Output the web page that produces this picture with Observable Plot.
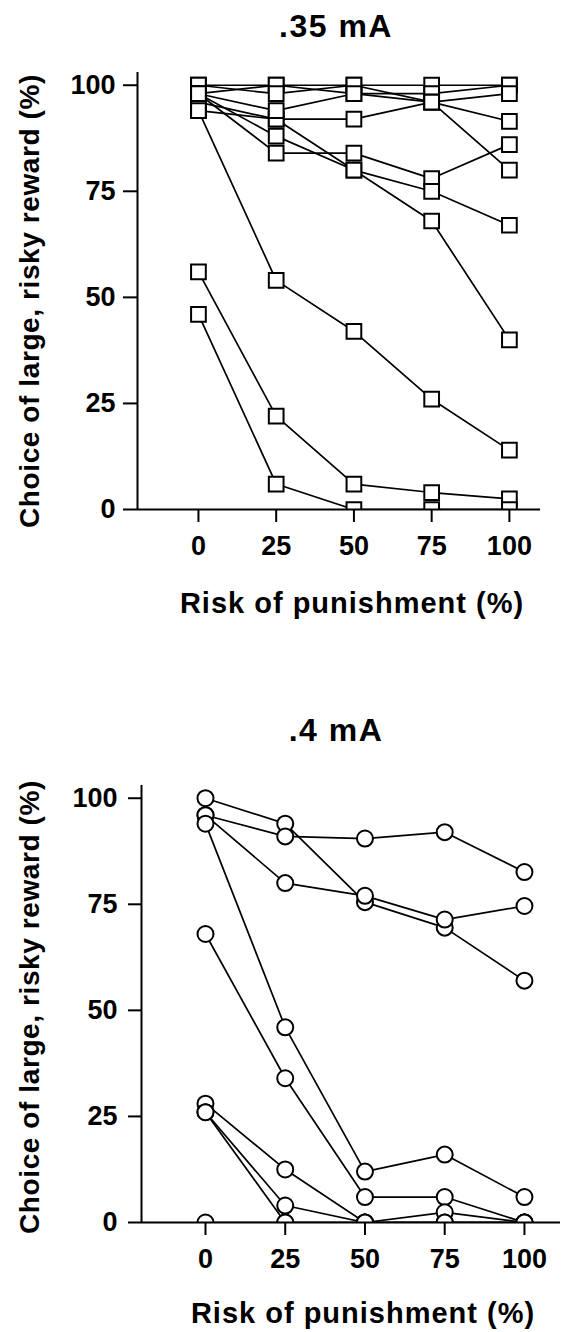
<!DOCTYPE html>
<html>
<head>
<meta charset="utf-8">
<script src="https://cdn.jsdelivr.net/npm/d3@7"></script>
<script src="https://cdn.jsdelivr.net/npm/@observablehq/plot@0.6"></script>
<style>
  html, body { margin: 0; padding: 0; background: #fff; overflow: hidden; }
  #wrap { position: relative; width: 576px; height: 1332px; font-family: "Liberation Sans", Arial, sans-serif; }
  .ttl { position: absolute; width: 480px; left: 96px; text-align: center; font-weight: bold; font-size: 32px; line-height: 32px; letter-spacing: 1.5px; color: #000; }
  .pnl { position: absolute; left: 0; }
</style>
</head>
<body>
<div id="wrap">
  <div class="ttl" style="top:10px">.35 mA</div>
  <div class="ttl" style="top:714px">.4 mA</div>
</div>
<script>
// ---- shared categories / ticks ----
const risk = [0, 25, 50, 75, 100];
const xTicks = [0, 25, 50, 75, 100];
const yTicks = [0, 25, 50, 75, 100];
const xLabel = "Risk of punishment (%)";
const yLabel = "Choice of large, risky reward (%)";

// ---- .35 mA (squares): one array per subject, values at risk 0,25,50,75,100 ----
const a01 = [100, 100, 100, 100, 100];
const a02 = [98, 100, 98, 98, 100];
const a03 = [100, 98, 100, 96, 98];
const a04 = [94, 92, 92, 96, 91.5];
const a05 = [98, 84, 84, 78, 86];
const a06 = [98, 88, 80, 75, 67];
const a07 = [96, 92, 80, 68, 40];
const a08 = [94, 54, 42, 26, 14];
const a09 = [56, 22, 6, 4, 2.5];
const a10 = [46, 6, 0, 0, 0];
const a11 = [98, 94, 98, 96, 80];
const panel035 = [a01, a02, a03, a04, a05, a06, a07, a08, a09, a10, a11];

// ---- .4 mA (circles) ----
const b01 = [100, 94, 75.5, 69.5, 57];
const b02 = [96, 91, 90.5, 92, 82.6];
const b03 = [96, 80, 77, 71.4, 74.6];
const b04 = [94, 46, 12, 16, 6];
const b05 = [68, 34, 6, 6, 0];
const b06 = [28, 12.5, 0, 0, 0];
const b07 = [26, 4, 0, 2.4, 0];
const b08 = [26, 0, 0, 0, 0];
const b09 = [0, 0, 0, 0, 0];
const panel04 = [b01, b02, b03, b04, b05, b06, b07, b08, b09];

function shiftText(sel, dx, dy) {
  sel.each(function () {
    const t = this.getAttribute("transform") || "";
    this.setAttribute("transform", `translate(${dx},${dy}) ${t}`);
  });
}

function makePanel(cfg) {
  const marks = [];
  cfg.series.forEach((vals, i) => {
    const d = vals.map((v, j) => ({subject: i, risk: risk[j], pct: v}));
    marks.push(Plot.line(d, {x: "risk", y: "pct", stroke: "black", strokeWidth: 1.7, clip: true}));
    marks.push(Plot.dot(d, {x: "risk", y: "pct", symbol: cfg.symbol, r: cfg.r, fill: "white", stroke: "black", strokeWidth: 2, clip: true}));
  });
  marks.push(Plot.ruleX([cfg.xDomain[0]], {stroke: "black", strokeWidth: 2}));
  marks.push(Plot.ruleY([0], {stroke: "black", strokeWidth: 2}));
  marks.push(Plot.axisY(yTicks, {
    tickSize: cfg.tickY, tickPadding: cfg.padY, strokeWidth: 2,
    fontSize: 27, fontWeight: "bold",
    label: yLabel, labelAnchor: "center", labelOffset: cfg.labelOffsetY, labelArrow: "none"
  }));
  marks.push(Plot.axisX(xTicks, {
    tickSize: 13, tickPadding: cfg.padX, strokeWidth: 2,
    fontSize: 27, fontWeight: "bold",
    label: xLabel, labelAnchor: "center", labelOffset: cfg.labelOffsetX, labelArrow: "none"
  }));
  const svg = Plot.plot({
    width: 576,
    height: cfg.height,
    marginLeft: cfg.marginLeft,
    marginRight: cfg.marginRight,
    marginTop: cfg.marginTop,
    marginBottom: cfg.marginBottom,
    x: {domain: cfg.xDomain},
    y: {domain: [0, 103]},
    style: {fontFamily: "'Liberation Sans', Arial, sans-serif", color: "black", background: "transparent", overflow: "visible"},
    marks
  });
  const s = d3.select(svg);
  s.selectAll('g[aria-label="y-axis label"]').attr("font-size", 28);
  s.selectAll('g[aria-label="x-axis label"]').attr("font-size", 29);
  s.selectAll('g[aria-label="y-axis label"] text').style("letter-spacing", "0.6px");
  s.selectAll('g[aria-label="x-axis label"] text').style("letter-spacing", "1px");
  shiftText(s.selectAll('g[aria-label="y-axis label"] text'), 0, cfg.shiftY);
  shiftText(s.selectAll('g[aria-label="x-axis label"] text'), cfg.shiftX, 0);
  svg.classList.add("pnl");
  svg.style.top = cfg.top + "px";
  document.getElementById("wrap").appendChild(svg);
}

makePanel({
  series: panel035, symbol: "square", r: 8.3,
  top: 50, height: 590,
  marginLeft: 137, marginRight: 36, marginTop: 22, marginBottom: 131,
  xDomain: [-19.6, 110],
  tickY: 14, padY: 8, padX: 13,
  labelOffsetY: 118, labelOffsetX: 103,
  shiftX: 13, shiftY: 10
});

makePanel({
  series: panel04, symbol: "circle", r: 8,
  top: 760, height: 572,
  marginLeft: 141, marginRight: 16, marginTop: 25, marginBottom: 110,
  xDomain: [-20.06, 111.3],
  tickY: 13, padY: 11, padX: 13,
  labelOffsetY: 122, labelOffsetX: 100,
  shiftX: 12, shiftY: 3
});
</script>
</body>
</html>
